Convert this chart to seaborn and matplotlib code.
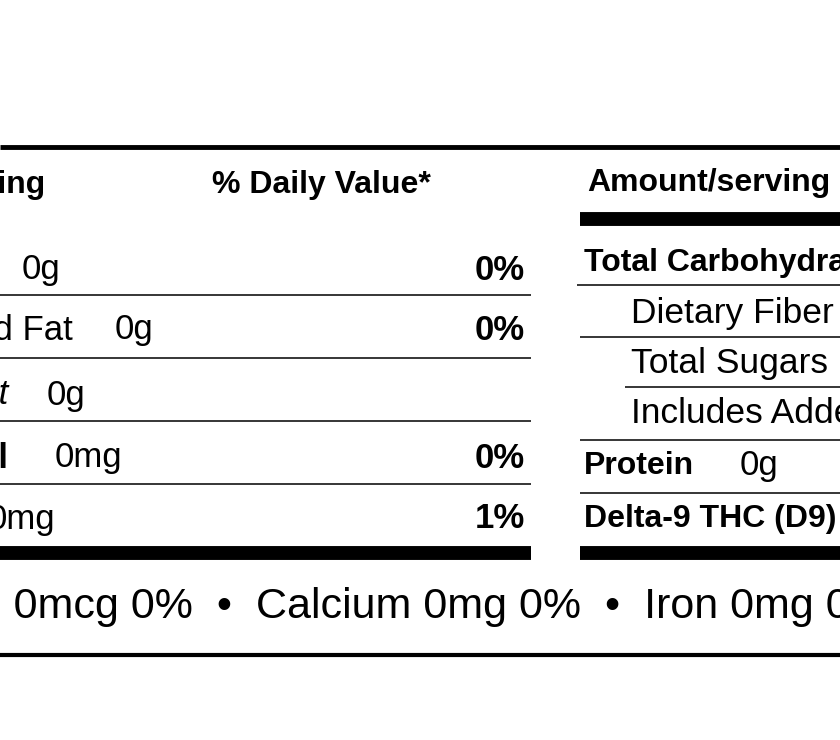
import matplotlib
matplotlib.use("Agg")
import matplotlib.pyplot as plt
import seaborn as sns

left_names = ["Total Fat", "Saturated Fat", "Trans Fat", "Cholesterol", "Sodium"]
left_amounts = ["0g", "0g", "0g", "0mg", "0mg"]
left_dv = ["0%", "0%", "", "0%", "1%"]
right_names = ["Total Carbohydrate", "Dietary Fiber", "Total Sugars", "Includes Added Sugars", "Protein", "Delta-9 THC (D9)"]
right_amounts = ["", "", "", "", "0g", ""]
footer_prefix = "Vitamin D "
footer = "Vitamin D 0mcg 0%  \u2022  Calcium 0mg 0%  \u2022  Iron 0mg 0%  \u2022  Potassium 0mg 0%"

sns.set_theme(style="white")
fig = plt.figure(figsize=(8.4, 7.4), dpi=100)
ax = fig.add_axes([0, 0, 1, 1])
ax.set_xlim(0, 840); ax.set_ylim(740, 0); ax.axis("off")
F = "Liberation Sans"
K = "black"

def hline(y, x0, x1, lw):
    ax.plot([x0, x1], [y, y], color=K, lw=lw, solid_capstyle="butt")

def txt(x, y, s, ha="left", size=24, weight="normal", style="normal"):
    return ax.text(x, y, s, ha=ha, va="center", fontsize=size, fontweight=weight,
                   style=style, family=F, color=K)

hline(147, 0, 840, 3.5)
txt(45, 185, "Amount/serving", ha="right", size=23, weight="bold")
txt(212, 185, "% Daily Value*", size=23, weight="bold")
txt(587, 183, "Amount/serving", size=23, weight="bold")
hline(219, 580, 840, 10)

# left column
name_right = [-4, 73, 8, 9, -16]
amt_x = [22, 115, 47, 55, -12]
weights = ["bold", "normal", "normal", "bold", "bold"]
sty = ["normal", "normal", "italic", "normal", "normal"]
ys = [270, 330, 395, 458, 519]
for i, n in enumerate(left_names):
    txt(name_right[i], ys[i], n, ha="right", size=25, weight=weights[i], style=sty[i])
    txt(amt_x[i], ys[i], left_amounts[i], size=25)
    txt(525, ys[i], left_dv[i], ha="right", size=25, weight="bold")
for y in [295, 358, 421, 484]:
    hline(y, 0, 531, 1.1)
hline(553, 0, 531, 10)

# right column
rys = [263, 313, 364, 414, 466, 519]
rx = [584, 631, 631, 631, 584, 584]
rw = ["bold", "normal", "normal", "normal", "bold", "bold"]
for i, n in enumerate(right_names):
    txt(rx[i], rys[i], n, size=23 if rw[i] == "bold" else 25.5, weight=rw[i])
for i, a in enumerate(right_amounts):
    if a:
        txt(740, rys[i], a, size=25)
for y, x0 in [(285, 577), (337, 580), (387, 625), (440, 580), (493, 580)]:
    hline(y, x0, 840, 1.1)
hline(553, 580, 840, 10)

# footer: place so that the amount after "Vitamin D " starts at the left edge
r = fig.canvas.get_renderer()
probe = txt(0, 607, footer_prefix.replace(" ", "") + "_", size=31)
w_prefix = probe.get_window_extent(r).width * 0.93
probe.remove()
txt(-w_prefix, 607, footer, size=31)
hline(655, 0, 840, 3)

fig.savefig("out.png", dpi=100)
